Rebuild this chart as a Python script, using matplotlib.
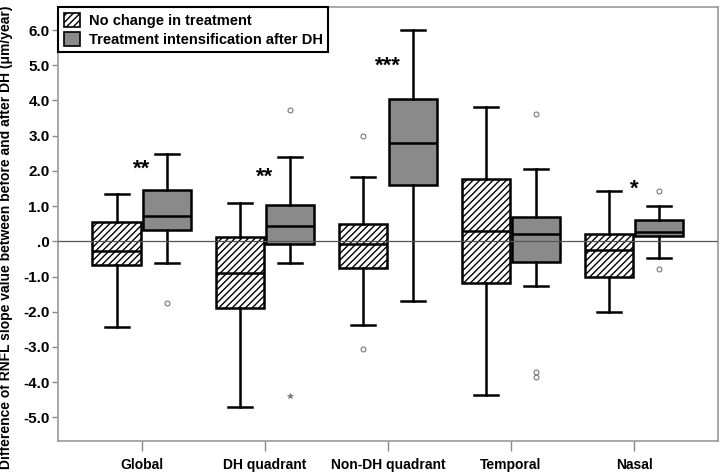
import matplotlib
matplotlib.use('Agg')
import matplotlib.pyplot as plt
from matplotlib.patches import Patch
import numpy as np

plt.rcParams['font.family'] = ['Liberation Sans', 'DejaVu Sans']
plt.rcParams['font.weight'] = 'bold'
plt.rcParams['hatch.linewidth'] = 1.0

categories = ['Global', 'DH quadrant', 'Non-DH quadrant', 'Temporal', 'Nasal']
groups = ['No change in treatment', 'Treatment intensification after DH']

# box stats: [Global, DH, Non-DH, Temporal, Nasal]
nochange_whislo = [-2.44, -4.70, -2.38, -4.37, -2.01]
nochange_q1 = [-0.66, -1.90, -0.77, -1.18, -1.00]
nochange_med = [-0.27, -0.91, -0.08, 0.30, -0.25]
nochange_q3 = [0.56, 0.13, 0.49, 1.77, 0.20]
nochange_whishi = [1.34, 1.08, 1.84, 3.82, 1.42]
nochange_fliers = [[], [], [3.00, -3.07], [], []]

intens_whislo = [-0.63, -0.63, -1.69, -1.27, -0.47]
intens_q1 = [0.32, -0.08, 1.60, -0.60, 0.15]
intens_med = [0.73, 0.44, 2.78, 0.21, 0.26]
intens_q3 = [1.46, 1.03, 4.04, 0.69, 0.60]
intens_whishi = [2.48, 2.40, 6.00, 2.04, 1.00]
intens_fliers = [[-1.76], [3.73], [], [3.62, -3.71, -3.85], [1.42, -0.79]]
intens_extremes = [[], [-4.39], [], [], []]

signif = ['**', '**', '***', '', '*']
signif_y = [2.05, 1.83, 4.96, 0, 1.47]


def make_stats(lo, q1, med, q3, hi, fl):
    return [dict(whislo=a, q1=b, med=c, q3=d, whishi=e, fliers=f)
            for a, b, c, d, e, f in zip(lo, q1, med, q3, hi, fl)]


fig = plt.figure(figsize=(7.2, 4.75), dpi=100)
ax = fig.add_axes([0.0806, 0.0716, 0.9164, 0.9134])

pos = np.arange(len(categories))
off = 0.205
w = 0.39

common = dict(widths=w, patch_artist=True, manage_ticks=False,
              whiskerprops=dict(color='black', lw=1.8),
              capprops=dict(color='black', lw=1.8),
              medianprops=dict(color='black', lw=1.8),
              flierprops=dict(marker='o', markersize=3.5, markerfacecolor='none',
                              markeredgecolor='#777777', markeredgewidth=0.8))

b1 = ax.bxp(make_stats(nochange_whislo, nochange_q1, nochange_med, nochange_q3,
                       nochange_whishi, nochange_fliers),
            positions=pos - off,
            boxprops=dict(facecolor='white', edgecolor='black', lw=1.8, hatch='/////'),
            **common)
b2 = ax.bxp(make_stats(intens_whislo, intens_q1, intens_med, intens_q3,
                       intens_whishi, intens_fliers),
            positions=pos + off,
            boxprops=dict(facecolor='#8a8a8a', edgecolor='black', lw=1.8),
            **common)

for i, ex in enumerate(intens_extremes):
    if ex:
        ax.plot([pos[i] + off] * len(ex), ex, ls='none', marker='*', markersize=4,
                color='#777777', mew=0.5)

ax.axhline(0, color='#555555', lw=0.9, zorder=3)

for i, s in enumerate(signif):
    if s:
        ax.text(pos[i], signif_y[i], s, ha='center', va='center', fontsize=16,
                fontweight='bold')

ax.set_xlim(-0.68, 4.68)
ax.set_ylim(-5.67, 6.65)
yt = np.arange(-5, 7)
ax.set_yticks(yt)
ax.set_yticklabels(['.0' if v == 0 else f'{v:.1f}' for v in yt.astype(float)],
                   fontsize=11, fontweight='bold')
ax.set_xticks(pos)
ax.set_xticklabels(categories, fontsize=10, fontweight='bold')
ax.tick_params(axis='x', length=7, color='#888888', width=1, pad=5)
ax.tick_params(axis='y', length=4, color='#888888', width=1, pad=2)
for sp in ax.spines.values():
    sp.set_color('#999999')
    sp.set_linewidth(1.2)

ax.set_ylabel('Difference of RNFL slope value between before and after DH (μm/year)',
              fontsize=10, fontweight='bold')
ax.yaxis.set_label_coords(-0.069, 0.47)

handles = [Patch(facecolor='white', edgecolor='black', hatch='/////', lw=1.2),
           Patch(facecolor='#8a8a8a', edgecolor='black', lw=1.2)]
leg = ax.legend(handles, groups, loc='upper left', borderaxespad=0, fancybox=False,
                prop=dict(size=10.5, weight='bold'), handlelength=1.1,
                handleheight=1.1, handletextpad=0.6, labelspacing=0.25,
                borderpad=0.4, framealpha=1)
leg.get_frame().set_edgecolor('black')
leg.get_frame().set_linewidth(1.5)

fig.savefig('out.png', dpi=100)
